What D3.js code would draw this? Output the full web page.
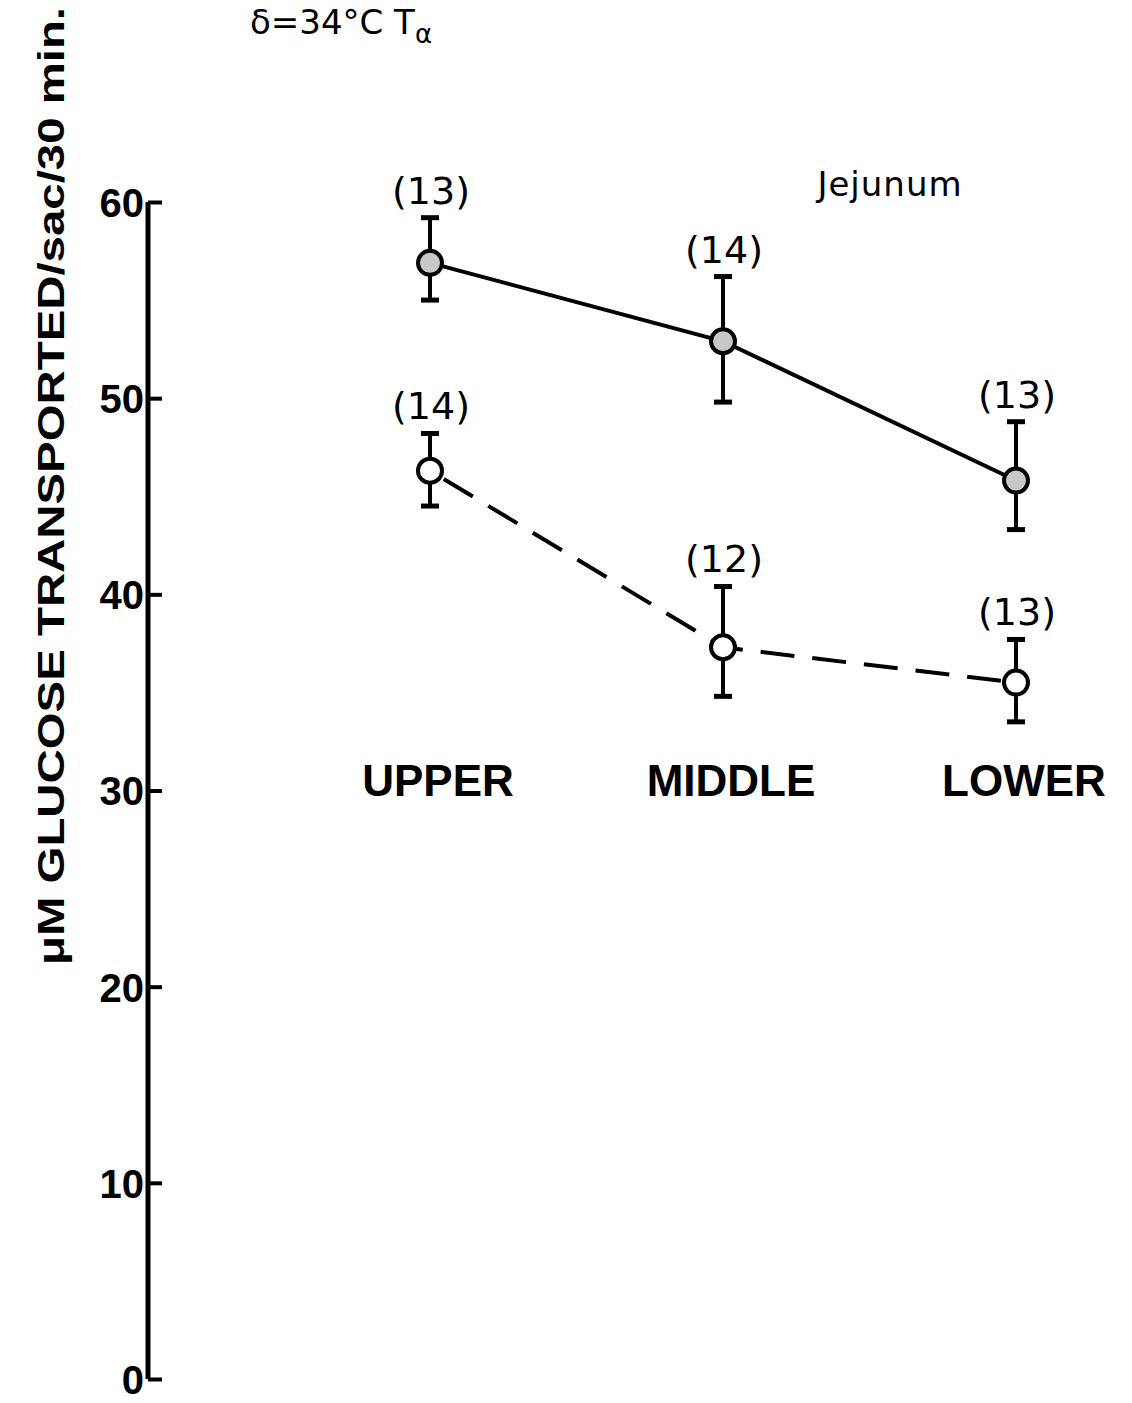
<!DOCTYPE html>
<html>
<head>
<meta charset="utf-8">
<script src="https://cdn.jsdelivr.net/npm/d3@7"></script>
<style>
  body { margin: 0; background: #fff; }
  svg { display: block; }
  text { font-family: "Liberation Sans", Arial, sans-serif; fill: #000; }
</style>
</head>
<body>
<div class="canvas"></div>
<script>
// chart values
const segments = ['UPPER', 'MIDDLE', 'LOWER'];
const yTicks = [0, 10, 20, 30, 40, 50, 60];

const solidMean = [56.9, 52.9, 45.8];
const solidHigh = [59.2, 56.2, 48.8];
const solidLow = [55.0, 49.8, 43.3];
const solidN = ['(13)', '(14)', '(13)'];

const dashMean = [46.3, 37.3, 35.5];
const dashHigh = [48.2, 40.4, 37.7];
const dashLow = [44.5, 34.8, 33.5];
const dashN = ['(14)', '(12)', '(13)'];

const svg = d3.select('.canvas')
    .append('svg')
    .attr('width', 1132)
    .attr('height', 1403);

const x = d3.scalePoint()
    .domain(segments)
    .range([430, 1016]);

const y = d3.scaleLinear()
    .domain([0, 60])
    .range([1379, 202]);

// y axis
const yAxis = d3.axisRight(y)
    .tickValues(yTicks)
    .tickSize(14)
    .tickFormat(d3.format('d'));

const ax = svg.append('g')
    .attr('transform', 'translate(148, 0)')
    .call(yAxis);

ax.select('.domain')
    .attr('stroke', '#000')
    .attr('stroke-width', 5)
    .attr('d', `M0,${y(60)}V${y(0)}`);

ax.selectAll('.tick line')
    .attr('stroke', '#000')
    .attr('stroke-width', 4);

ax.selectAll('.tick text')
    .attr('x', -4)
    .attr('dy', '0.36em')
    .attr('text-anchor', 'end')
    .style('font-family', '"Liberation Sans", sans-serif')
    .style('font-size', '40px')
    .style('font-weight', 'bold');

// y label
svg.append('text')
    .attr('transform', 'translate(64, 965) rotate(-90)')
    .attr('textLength', 958)
    .attr('lengthAdjust', 'spacingAndGlyphs')
    .style('font-size', '36px')
    .style('font-weight', 'bold')
    .text('μM GLUCOSE TRANSPORTED/sac/30 min.');

// title at top
svg.append('text')
    .attr('x', 250)
    .attr('y', 34)
    .style('font-size', '34px')
    .style('font-family', '"DejaVu Sans", sans-serif')
    .html('δ=34°C T<tspan dy="9" style="font-size:26px">α</tspan>');

svg.append('text')
    .attr('x', 890)
    .attr('y', 196)
    .attr('text-anchor', 'middle')
    .style('font-size', '34px')
    .style('letter-spacing', '1px')
    .style('font-family', '"DejaVu Sans", sans-serif')
    .text('Jejunum');

// category labels
svg.selectAll('.cat')
    .data(segments)
    .enter()
    .append('text')
    .attr('class', 'cat')
    .attr('x', d => x(d) + 8)
    .attr('y', 796)
    .attr('text-anchor', 'middle')
    .style('font-size', '44px')
    .style('font-weight', 'bold')
    .text(d => d);

function drawSeries(mean, high, low, labels, dashed, fill) {
    const pts = segments.map((s, i) => ({
        s: s, m: mean[i], hi: high[i], lo: low[i], n: labels[i]
    }));

    const line = d3.line()
        .x(d => x(d.s))
        .y(d => y(d.m));

    svg.append('path')
        .datum(pts)
        .attr('d', line)
        .attr('fill', 'none')
        .attr('stroke', '#000')
        .attr('stroke-width', 4)
        .attr('stroke-dasharray', dashed ? '34,18' : null)
        .attr('stroke-dashoffset', dashed ? -16 : 0);

    const g = svg.selectAll(null)
        .data(pts)
        .enter()
        .append('g');

    // error bars
    g.append('line')
        .attr('x1', d => x(d.s)).attr('x2', d => x(d.s))
        .attr('y1', d => y(d.hi)).attr('y2', d => y(d.lo))
        .attr('stroke', '#000').attr('stroke-width', 4);

    g.append('line')
        .attr('x1', d => x(d.s) - 9).attr('x2', d => x(d.s) + 9)
        .attr('y1', d => y(d.hi)).attr('y2', d => y(d.hi))
        .attr('stroke', '#000').attr('stroke-width', 5);

    g.append('line')
        .attr('x1', d => x(d.s) - 9).attr('x2', d => x(d.s) + 9)
        .attr('y1', d => y(d.lo)).attr('y2', d => y(d.lo))
        .attr('stroke', '#000').attr('stroke-width', 5);

    g.append('circle')
        .attr('cx', d => x(d.s))
        .attr('cy', d => y(d.m))
        .attr('r', 12)
        .attr('fill', fill)
        .attr('stroke', '#000')
        .attr('stroke-width', 4);

    g.append('text')
        .attr('x', d => x(d.s) + 1)
        .attr('y', d => y(d.hi) - 14)
        .attr('text-anchor', 'middle')
        .style('font-size', '38px')
        .style('font-family', '"DejaVu Sans", sans-serif')
        .text(d => d.n);
}

drawSeries(solidMean, solidHigh, solidLow, solidN, false, '#c8c8c8');
drawSeries(dashMean, dashHigh, dashLow, dashN, true, '#fff');
</script>
</body>
</html>
